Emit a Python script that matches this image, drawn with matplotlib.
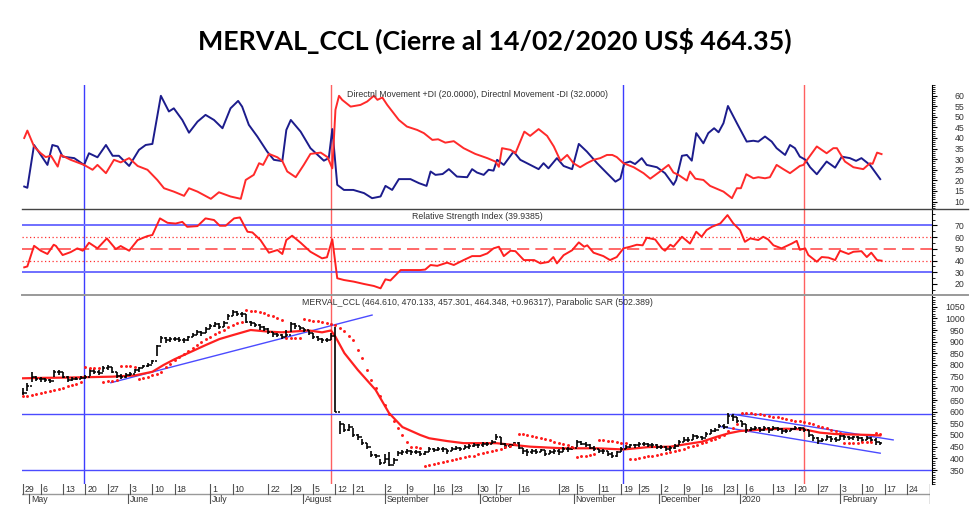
import matplotlib
matplotlib.use("Agg")
import matplotlib.pyplot as plt
from matplotlib.lines import Line2D
from matplotlib.ticker import MultipleLocator

# x of every series = trading-day index (0 = 29 Apr 2019, 192 = 14 Feb 2020)

# daily bars of MERVAL_CCL
closes = [
    682, 712, 750, 742, 738, 735, 732, 768, 770, 750,
    736, 740, 742, 745, 748, 775, 770, 765, 788, 790,
    770, 752, 748, 758, 762, 778, 785, 795, 802, 815,
    880, 915, 905, 910, 912, 908, 905, 918, 930, 940,
    935, 955, 968, 975, 962, 980, 1010, 1025, 1020, 1018,
    985, 978, 970, 962, 955, 940, 932, 928, 922, 930,
    975, 965, 958, 950, 935, 922, 912, 905, 908, 925,
    600, 545, 520, 535, 500, 490, 465, 448, 415, 410,
    380, 398, 372, 392, 422, 428, 430, 425, 428, 420,
    425, 440, 435, 442, 438, 432, 440, 445, 440, 450,
    452, 458, 455, 460, 462, 470, 492, 462, 452, 455,
    465, 445, 432, 425, 432, 428, 435, 420, 428, 430,
    425, 440, 438, 445, 470, 462, 458, 445, 440, 432,
    430, 420, 410, 425, 440, 450, 455, 455, 460, 462,
    458, 455, 450, 448, 440, 445, 452, 470, 480, 478,
    495, 492, 488, 505, 515, 520, 540, 535, 580, 575,
    560, 545, 520, 525, 530, 522, 528, 520, 532, 525,
    515, 518, 525, 530, 528, 520, 500, 485, 475, 480,
    490, 482, 478, 495, 490, 488, 490, 485, 480, 488,
    478, 470, 464.35,
]
highs = [
    700, 722, 768, 752, 748, 745, 742, 778, 780, 772,
    752, 748, 750, 752, 755, 785, 782, 778, 795, 798,
    792, 772, 760, 765, 770, 782, 792, 800, 810, 822,
    885, 925, 920, 918, 922, 918, 915, 925, 938, 948,
    945, 962, 975, 985, 978, 988, 1018, 1035, 1032, 1028,
    1020, 990, 982, 975, 965, 958, 942, 938, 932, 950,
    985, 978, 968, 960, 952, 938, 925, 915, 915, 935,
    962, 560, 545, 545, 530, 505, 482, 465, 432, 420,
    395, 420, 425, 400, 430, 435, 440, 435, 436, 430,
    432, 448, 445, 450, 448, 442, 448, 452, 450, 458,
    460, 465, 462, 468, 470, 478, 505, 490, 465, 462,
    472, 468, 445, 438, 440, 438, 442, 435, 436, 440,
    438, 448, 448, 452, 478, 475, 470, 462, 452, 442,
    440, 432, 428, 432, 448, 458, 462, 462, 468, 470,
    466, 464, 460, 456, 452, 452, 460, 478, 492, 490,
    505, 502, 496, 512, 525, 532, 548, 545, 595, 590,
    578, 562, 548, 535, 540, 535, 538, 535, 540, 535,
    528, 525, 532, 538, 535, 530, 522, 500, 490, 488,
    498, 495, 490, 502, 498, 495, 497, 494, 492, 496,
    492, 488, 470.1,
]
lows = [
    672, 690, 728, 730, 728, 726, 724, 748, 755, 745,
    728, 732, 735, 738, 740, 752, 760, 755, 770, 778,
    765, 745, 738, 745, 752, 765, 772, 785, 792, 805,
    840, 895, 895, 900, 902, 898, 895, 902, 918, 928,
    925, 935, 955, 962, 955, 962, 992, 1012, 1008, 1005,
    980, 968, 962, 952, 945, 932, 922, 918, 912, 920,
    940, 955, 948, 940, 928, 912, 902, 895, 898, 905,
    598, 505, 512, 518, 490, 480, 455, 440, 405, 400,
    370, 378, 365, 375, 408, 415, 418, 415, 418, 412,
    415, 428, 425, 432, 428, 420, 430, 435, 432, 440,
    442, 448, 445, 450, 452, 460, 478, 455, 442, 445,
    452, 438, 420, 412, 420, 418, 425, 410, 418, 420,
    415, 425, 428, 435, 448, 455, 450, 438, 430, 422,
    420, 410, 400, 405, 425, 440, 445, 445, 450, 452,
    448, 445, 440, 438, 430, 432, 440, 455, 470, 468,
    480, 482, 478, 490, 505, 512, 528, 525, 548, 560,
    550, 535, 510, 515, 520, 512, 518, 510, 520, 515,
    505, 508, 515, 520, 518, 512, 490, 475, 462, 470,
    478, 472, 468, 478, 480, 478, 480, 476, 470, 478,
    468, 458, 457.3,
]
# parabolic SAR, one dot per bar
sar = [
    665, 668, 672, 676, 680, 684, 688, 692, 697, 702, 708, 714, 720, 727,
    790, 789, 788, 786,
    729, 731, 733, 735,
    795, 795, 794, 793,
    740, 745, 750, 755, 762, 770,
    790, 805, 820, 835, 848, 860, 872, 885, 898, 910, 922, 932, 942, 952,
    962, 970, 978, 985,
    1035, 1033, 1030, 1026, 1022, 1016, 1010, 1002, 994,
    914, 914, 915, 916,
    995, 992, 990, 987, 984, 980, 976, 972, 960, 945, 925, 905, 865, 830,
    780, 735, 700, 668, 630, 590, 558, 530, 500, 470, 450, 448, 446,
    368, 372, 376, 380, 384, 388, 392, 396, 400, 404, 408, 412, 417, 422,
    427, 432, 437, 442, 447, 453, 460,
    505, 503, 500, 497, 493, 488, 483, 478, 472, 466, 460, 455, 450,
    405, 408, 411, 414, 417,
    480, 478, 476, 473, 470, 467, 464,
    395, 398, 401, 404, 408, 412, 416, 420, 424, 428, 432, 437, 442, 447,
    452, 458, 464, 470, 477, 484, 492, 502, 515, 530, 545,
    596, 595, 593, 590, 588, 585, 582, 579, 576, 573, 570, 566, 562, 558,
    554, 550, 545, 540, 534, 528, 522, 516, 510,
    464, 465, 466, 467, 468, 469, 470,
    510, 502.389,
]
assert len(closes) == len(highs) == len(lows) == len(sar) == 193

# red moving average in the price panel
ma_x = [0, 5, 10, 15, 20, 25, 29, 31.5, 34, 37, 41, 44, 47, 51, 55, 58, 61,
        64, 67, 69, 70, 72, 75, 79, 82, 85, 89, 91, 95, 98.7, 106, 113.6,
        121, 128.6, 134.5, 140, 145, 149, 152, 155.5, 158, 160.6, 163.5,
        167, 171, 175, 178.5, 182, 186, 190, 192]
ma_y = [743, 745, 746, 748, 750, 755, 771, 800, 825, 851, 886, 911, 928, 950,
        943, 940, 944, 948, 940, 948, 921, 851, 779, 693, 594, 534, 500, 486,
        474, 465, 465, 450, 443, 443, 438, 448, 450, 462, 471, 493, 507, 517,
        521, 525, 527, 524, 510, 504, 502, 500, 498]

# Directional movement +DI (navy) and -DI (red)
dip_x = [0.3, 1, 2.5, 4, 5.5, 6.6, 7.8, 8.9, 11.5, 12.6, 13.7, 14.8, 16.7,
         18.6, 20.1, 21.5, 23.8, 26, 27.5, 29, 30.9, 32.7, 33.8, 35.7, 37.2,
         39.1, 40.9, 42.8, 44.7, 46.5, 48.2, 49.1, 50.6, 52.5, 54.7, 56.2,
         58.1, 59, 60, 62.2, 64.4, 67.4, 68.5, 69.3, 70.4, 71.9, 74, 76.4,
         78.2, 80.1, 81.2, 82.7, 84.2, 86.8, 88.7, 90.4, 91.3, 92.4, 94,
         95.4, 97.2, 99.5, 100.6, 101.7, 103.2, 104.3, 105.4, 106.2, 107.7,
         109.9, 111.4, 112.9, 115.5, 116.6, 117.7, 119.6, 121.1, 123, 124.5,
         126.3, 128.6, 130.8, 132.7, 133.8, 134.7, 136, 137.1, 138.6, 139.7,
         142, 143.8, 145.7, 146.3, 147.6, 148.7, 149.8, 150.8, 152.4, 153.5,
         154.8, 155.8, 156.9, 157.9, 159.9, 162.1, 163.6, 164.7, 166.2,
         167.7, 168.8, 170.7, 171.8, 172.9, 174, 175.2, 176.3, 177.8, 180,
         181.9, 183.4, 185.2, 186.6, 187.8, 189.7, 192]
dip_y = [17.1, 16.5, 36.7, 32, 27.3, 36.7, 36, 31.2, 30.5, 28.9, 27.3, 32.8,
         30.9, 36.7, 31.6, 31.6, 26.8, 34.4, 36.7, 37.2, 59.9, 52.5, 54, 48.5,
         42.5, 47.7, 50.9, 48.5, 44.6, 54, 57.5, 54.8, 46.2, 40.7, 33.6, 29.7,
         29.1, 43.8, 48.5, 43, 35.2, 29.3, 30.5, 44.2, 17.9, 15.5, 15.5, 14,
         11.6, 12.4, 17.4, 15.5, 20.6, 20.6, 18.7, 17.4, 24.2, 22.6, 23,
         25.3, 21.8, 21.5, 25.3, 23.7, 22.6, 25, 24.6, 29.7, 27.3,
         33.6, 29.7, 28.1, 25.3, 28.1, 25.7, 30.5, 26.8, 25.3, 37.2,
         33.6, 28.1, 23.4, 19.4, 20.8, 28.1, 28.9, 27.7, 30.5, 27.3,
         26.2, 23.4, 17.9, 20.2, 31.6, 32, 29.3, 42.3, 37.5, 42.3,
         44.6, 42.7, 47, 55.1, 47, 38.3, 38.7, 38.3, 40.7,
         38.3, 35.2, 32, 36.7, 35.2, 31.2, 29.8, 26.2, 22.9, 28.9,
         26, 31.2, 30.5, 29.2, 30.5, 27.3, 20.6]
dim_x = [0.3, 1, 2.5, 4, 5.1, 6.3, 7.8, 8.5, 10.7, 13.7, 15.6, 16.7, 18.6,
         20.4, 21.9, 23.8, 25.7, 27.9, 30.1, 31.6, 33.8, 36.1, 37.2, 39.1,
         42.1, 43.9, 46.5, 48.8, 49.9, 51.7, 52.9, 53.8, 55.1, 57, 58.1,
         59.2, 61.1, 62.9, 64.4, 66.7, 68.2, 69.3, 70, 70.8, 71.5, 73.4,
         75.6, 77.1, 78.6, 79.4, 80.5, 81.6, 84.2, 86, 88.3, 89.8, 91.7, 93,
         94.6, 96.5, 98.7, 101.3, 104, 105.8, 106.6, 107.3, 109.2, 110.3,
         112.3, 113.6, 115.5, 117.4, 118.9, 120.4, 121.9, 123.3, 124.8,
         126.3, 127.8, 129.3, 130.8, 132, 133, 134.5, 136.8, 139, 140.5,
         142.7, 144.6, 145.7, 146.8, 148.7, 149.4, 150.6, 152.4, 153.9,
         156.9, 158.8, 159.9, 160.8, 162, 163.6, 164.7, 166.2, 167.3, 168.8,
         170.3, 171.8, 174, 174.8, 177.8, 180, 181.5, 182.3, 184.1, 186,
         188.2, 189.7, 190.3, 191.3, 192.3]
dim_y = [40, 43.5, 36, 32.8, 31, 31.6, 26.5, 32, 29.7, 27.3, 25, 27.3, 23.4,
         29.7, 28.5, 30.5, 26.8, 25, 20.2, 16.3, 14.7, 12.7, 16.3, 14.7,
         11.3, 14.4, 12.4, 11.3, 20.2, 22.6, 28.1, 27.3, 32.5, 30.9, 29.1,
         24.2, 21.5, 27.3, 32.5, 33.1, 31, 25.7, 53.3, 59.9, 58, 54.8,
         55.6, 57.2, 59.9, 58, 59.1, 55.6, 48.5, 45.4, 43.8, 42.3, 39.1, 39.4,
         37.8, 38.5, 35.2, 32.5, 30.5, 28.9, 26.4, 35.2, 34.4, 32.8,
         43, 41, 44.2, 41, 36, 29.2, 32, 28.1, 26.2,
         28.1, 29.7, 30.5, 32, 32, 31, 28.1, 26.2, 23.4, 20.8,
         24.2, 27.3, 23.7, 22.6, 19.9, 24.2, 20.8, 20.2, 17.4,
         14.7, 11.6, 16.3, 16.3, 22.9, 21, 21.5, 21, 21.5, 27.3,
         25.3, 23.4, 26.8, 27.3, 36, 32.8, 35.2, 35.2, 28.9, 26.2,
         25.3, 28.1, 27.8, 33.1, 32.4]

# Relative Strength Index
rsi_x = [0.3, 1, 2.5, 4, 5.5, 6.9, 7.4, 8.9, 10.7, 12.2, 13.4, 13.9, 14.8,
         16.7, 18.8, 20.8, 21.9, 23.8, 25.7, 27.9, 29, 30.7, 32.4, 34.2,
         35.7, 36.8, 39.1, 40.9, 42.8, 44.1, 45.4, 47.3, 48.6, 50.3, 51.4,
         53.2, 55.1, 57, 58.1, 59, 60.3, 62.2, 64.4, 67, 68.1, 69.3, 70.4,
         71.9, 74.1, 76.4, 78.6, 80.1, 81.2, 82.3, 84.6, 87.2, 89, 90.1,
         91.3, 92.8, 95, 96.5, 98.7, 100.6, 102.4, 104, 105.4, 106.6, 107.7,
         109.2, 110.3, 112.2, 114.5, 115.9, 117.7, 118.8, 119.6, 121.1, 123,
         124.5, 125.7, 126.4, 127.8, 130, 131.5, 133, 134.5, 136, 137.5,
         138.8, 139.7, 141.6, 143.1, 143.8, 145, 145.7, 147.6, 149.4, 150.8,
         152, 153.1, 154.3, 156.2, 157.8, 159.1, 160.6, 161.7, 162.9, 164.7,
         165.8, 166.9, 168.1, 169.9, 172.2, 173.3, 174, 175.2, 175.9, 177.8,
         178.9, 180.4, 181.9, 183, 184.9, 186, 187.8, 189, 190, 191.3, 192.3]
rsi_y = [34.2, 35, 52.6, 48.4, 45.6, 53.5, 52.5, 44.7, 47.2, 50.4, 48.4,
         50.4, 55.2, 50.4, 58.9, 49.8, 52.4, 48.4, 57.5, 60.9, 61.8, 76, 72.2,
         71.6, 73, 68.8, 69.4, 76, 74.6, 69.7, 69.7, 76, 76.8, 64.6, 64,
         57.5, 46.7, 49, 45.6, 57.5, 61.2, 55.2, 47.5, 41.9, 42.8, 58.1, 24.9,
         23.4, 22, 20, 18.3, 16.3, 24, 23, 31.9, 31.9, 31.9, 32.3,
         36.2, 35.5, 38.2, 36.2, 40.4, 43.8, 43.8, 46.1, 50.4, 51.8, 43.8,
         48.4, 48, 40.4, 40.4, 37.6, 38.8, 43, 37.6, 44.6, 48.8,
         55.5, 51.8, 53, 46.7, 43.8, 40.4, 43, 50.4, 51.8, 53.5,
         53, 59.5, 58, 50.4, 48.4, 53.5, 51.8, 60.3, 54.5, 64.6,
         60.3, 66, 68.8, 71.7, 78.8, 71.7, 66, 56, 58.9, 57.5,
         60.3, 58, 53, 50.4, 54.5, 56.8, 49.2, 50.4, 44.7, 39,
         43, 42.5, 40.4, 48.4, 45.6, 47.5, 48, 43, 46.7, 40.4, 39.9]

# drawn trend lines (start/end index, start/end price)
trend_x = [[19.7, 78.2], [159, 194.9], [156.2, 192]]
trend_y = [[724, 1014], [589, 479], [536, 422]]
price_levels = [590, 352]
blue_marks = [13.6, 134.5]
red_marks = [69.1, 174.9]

# date axis
day_pos = [0, 4, 9, 14, 19, 24, 29, 34, 42, 47, 55, 60, 65, 70, 74, 81, 86,
           92, 96, 102, 106, 111, 120, 124, 129, 134, 138, 143, 148, 152,
           157, 160, 162, 168, 173, 178, 183, 188, 193, 198]
day_lbl = ["29", "6", "13", "20", "27", "3", "10", "18", "1", "10", "22",
           "29", "5", "12", "21", "2", "9", "16", "23", "30", "7", "16", "28",
           "5", "11", "19", "25", "2", "9", "16", "23", "", "6", "13", "20",
           "27", "3", "10", "17", "24"]
month_pos = [1.4, 23.5, 41.9, 62.7, 81.1, 102.4, 123.4, 142.4, 160.6, 183]
month_lbl = ["May", "June", "July", "August", "September", "October",
             "November", "December", "2020", "February"]

FW, FH = 980, 526
TXT = "#333333"
FONT = "Liberation Sans"
XLIM = (-0.2, 203.6)

fig = plt.figure(figsize=(FW / 100, FH / 100), dpi=100)


def panel(top, bottom):
    ax = fig.add_axes([22 / FW, 1 - bottom / FH, (932 - 22) / FW, (bottom - top) / FH])
    ax.set_xlim(*XLIM)
    for s in ["top", "left", "bottom"]:
        ax.spines[s].set_visible(False)
    ax.spines["right"].set_linewidth(0.8)
    ax.set_xticks([])
    ax.yaxis.tick_right()
    ax.tick_params(axis="y", which="major", length=3.5, width=0.8, pad=20,
                   labelsize=6.3, labelcolor=TXT)
    ax.tick_params(axis="y", which="minor", length=1.8, width=0.6)
    for v in blue_marks:
        ax.axvline(v, color="#3c3cff", lw=1, zorder=1)
    for v in red_marks:
        ax.axvline(v, color="#ff6060", lw=1, zorder=1)
    return ax


def right_labels(ax, ticks):
    ax.set_yticks(ticks)
    ax.set_yticklabels([str(t) for t in ticks], fontfamily=FONT)
    plt.setp(ax.get_yticklabels(), ha="right")


# Panel 1: directional movement
ax1 = panel(85, 209)
ax1.set_ylim(6.5, 65)
ax1.plot(dip_x, dip_y, color="#1c1c8c", lw=1.4)
ax1.plot(dim_x, dim_y, color="#ff2a2a", lw=1.4)
right_labels(ax1, list(range(10, 61, 5)))
ax1.yaxis.set_minor_locator(MultipleLocator(1))
ax1.text(0.5, 0.927, "Directnl Movement +DI (20.0000), Directnl Movement -DI (32.0000)",
         transform=ax1.transAxes, ha="center", va="center", fontsize=6.3,
         color=TXT, family=FONT)

# Panel 2: RSI
ax2 = panel(209, 295)
ax2.set_ylim(10.6, 84)
for lv in [70, 30]:
    ax2.axhline(lv, color="#6f6fff", lw=1.4, zorder=1)
for lv in [60, 40]:
    ax2.axhline(lv, color="#ff3030", lw=0.9, ls=(0, (1, 2)), zorder=1)
ax2.axhline(50, color="#ff4040", lw=1.1, ls=(0, (8, 4)), zorder=1)
ax2.plot(rsi_x, rsi_y, color="#ff2020", lw=1.4)
right_labels(ax2, list(range(20, 71, 10)))
ax2.yaxis.set_minor_locator(MultipleLocator(5))
ax2.text(0.5, 0.91, "Relative Strength Index (39.9385)", transform=ax2.transAxes,
         ha="center", va="center", fontsize=6.3, color=TXT, family=FONT)

# Panel 3: price bars, moving average, SAR
ax3 = panel(295, 484)
ax3.set_ylim(290, 1100)
for lv in price_levels:
    ax3.axhline(lv, color="#4b4bff", lw=1, zorder=1)
for tx, ty in zip(trend_x, trend_y):
    ax3.plot(tx, ty, color="#4b4bff", lw=1, zorder=2)
ax3.plot(ma_x, ma_y, color="#ff2020", lw=1.6, zorder=3)
xs = list(range(len(closes)))
opens = [closes[0]] + closes[:-1]
ax3.vlines(xs, lows, highs, color="black", lw=1.2, zorder=4)
ax3.hlines(opens, [x - 0.45 for x in xs], xs, color="black", lw=1.1, zorder=4)
ax3.hlines(closes, xs, [x + 0.45 for x in xs], color="black", lw=1.1, zorder=4)
ax3.scatter(xs, sar, s=4.5, marker="o", linewidths=0, color="#ff1a1a", zorder=5)
right_labels(ax3, list(range(350, 1051, 50)))
ax3.yaxis.set_minor_locator(MultipleLocator(10))
ax3.text(0.5, 0.958,
         "MERVAL_CCL (464.610, 470.133, 457.301, 464.348, +0.96317), Parabolic SAR (502.389)",
         transform=ax3.transAxes, ha="center", va="center", fontsize=6.3,
         color=TXT, family=FONT)

# date strip
axd = fig.add_axes([22 / FW, 1 - 504 / FH, (930 - 22) / FW, 20 / FH])
axd.set_xlim(XLIM[0], XLIM[1] - 0.45)
axd.set_ylim(0, 2)
axd.axis("off")
axd.axhline(1, color="#999999", lw=1)
axd.axvline(axd.get_xlim()[1], color="#777777", lw=1)
for p, lbl in zip(day_pos, day_lbl):
    axd.plot([p, p], [1, 2], color="#555555", lw=0.8)
    axd.text(p + 0.4, 1.5, lbl, ha="left", va="center", fontsize=6.3,
             color=TXT, family=FONT)
for p, lbl in zip(month_pos, month_lbl):
    axd.plot([p, p], [0, 1], color="#555555", lw=0.8)
    axd.text(p + 0.4, 0.45, lbl, ha="left", va="center", fontsize=6.3,
             color=TXT, family=FONT)

# panel separators reaching into the label column
for y, c, w in [(209, "#444444", 1.0), (295, "#999999", 1.4)]:
    fig.add_artist(Line2D([22 / FW, 968 / FW], [1 - y / FH] * 2, color=c, lw=w))

fig.text(0.505, 1 - 41 / FH, "MERVAL_CCL (Cierre al 14/02/2020 US$ 464.35)",
         ha="center", va="center", fontsize=19.3, fontweight="bold",
         family="Lato", color="black")

fig.savefig("out.png", dpi=100, facecolor="white")
